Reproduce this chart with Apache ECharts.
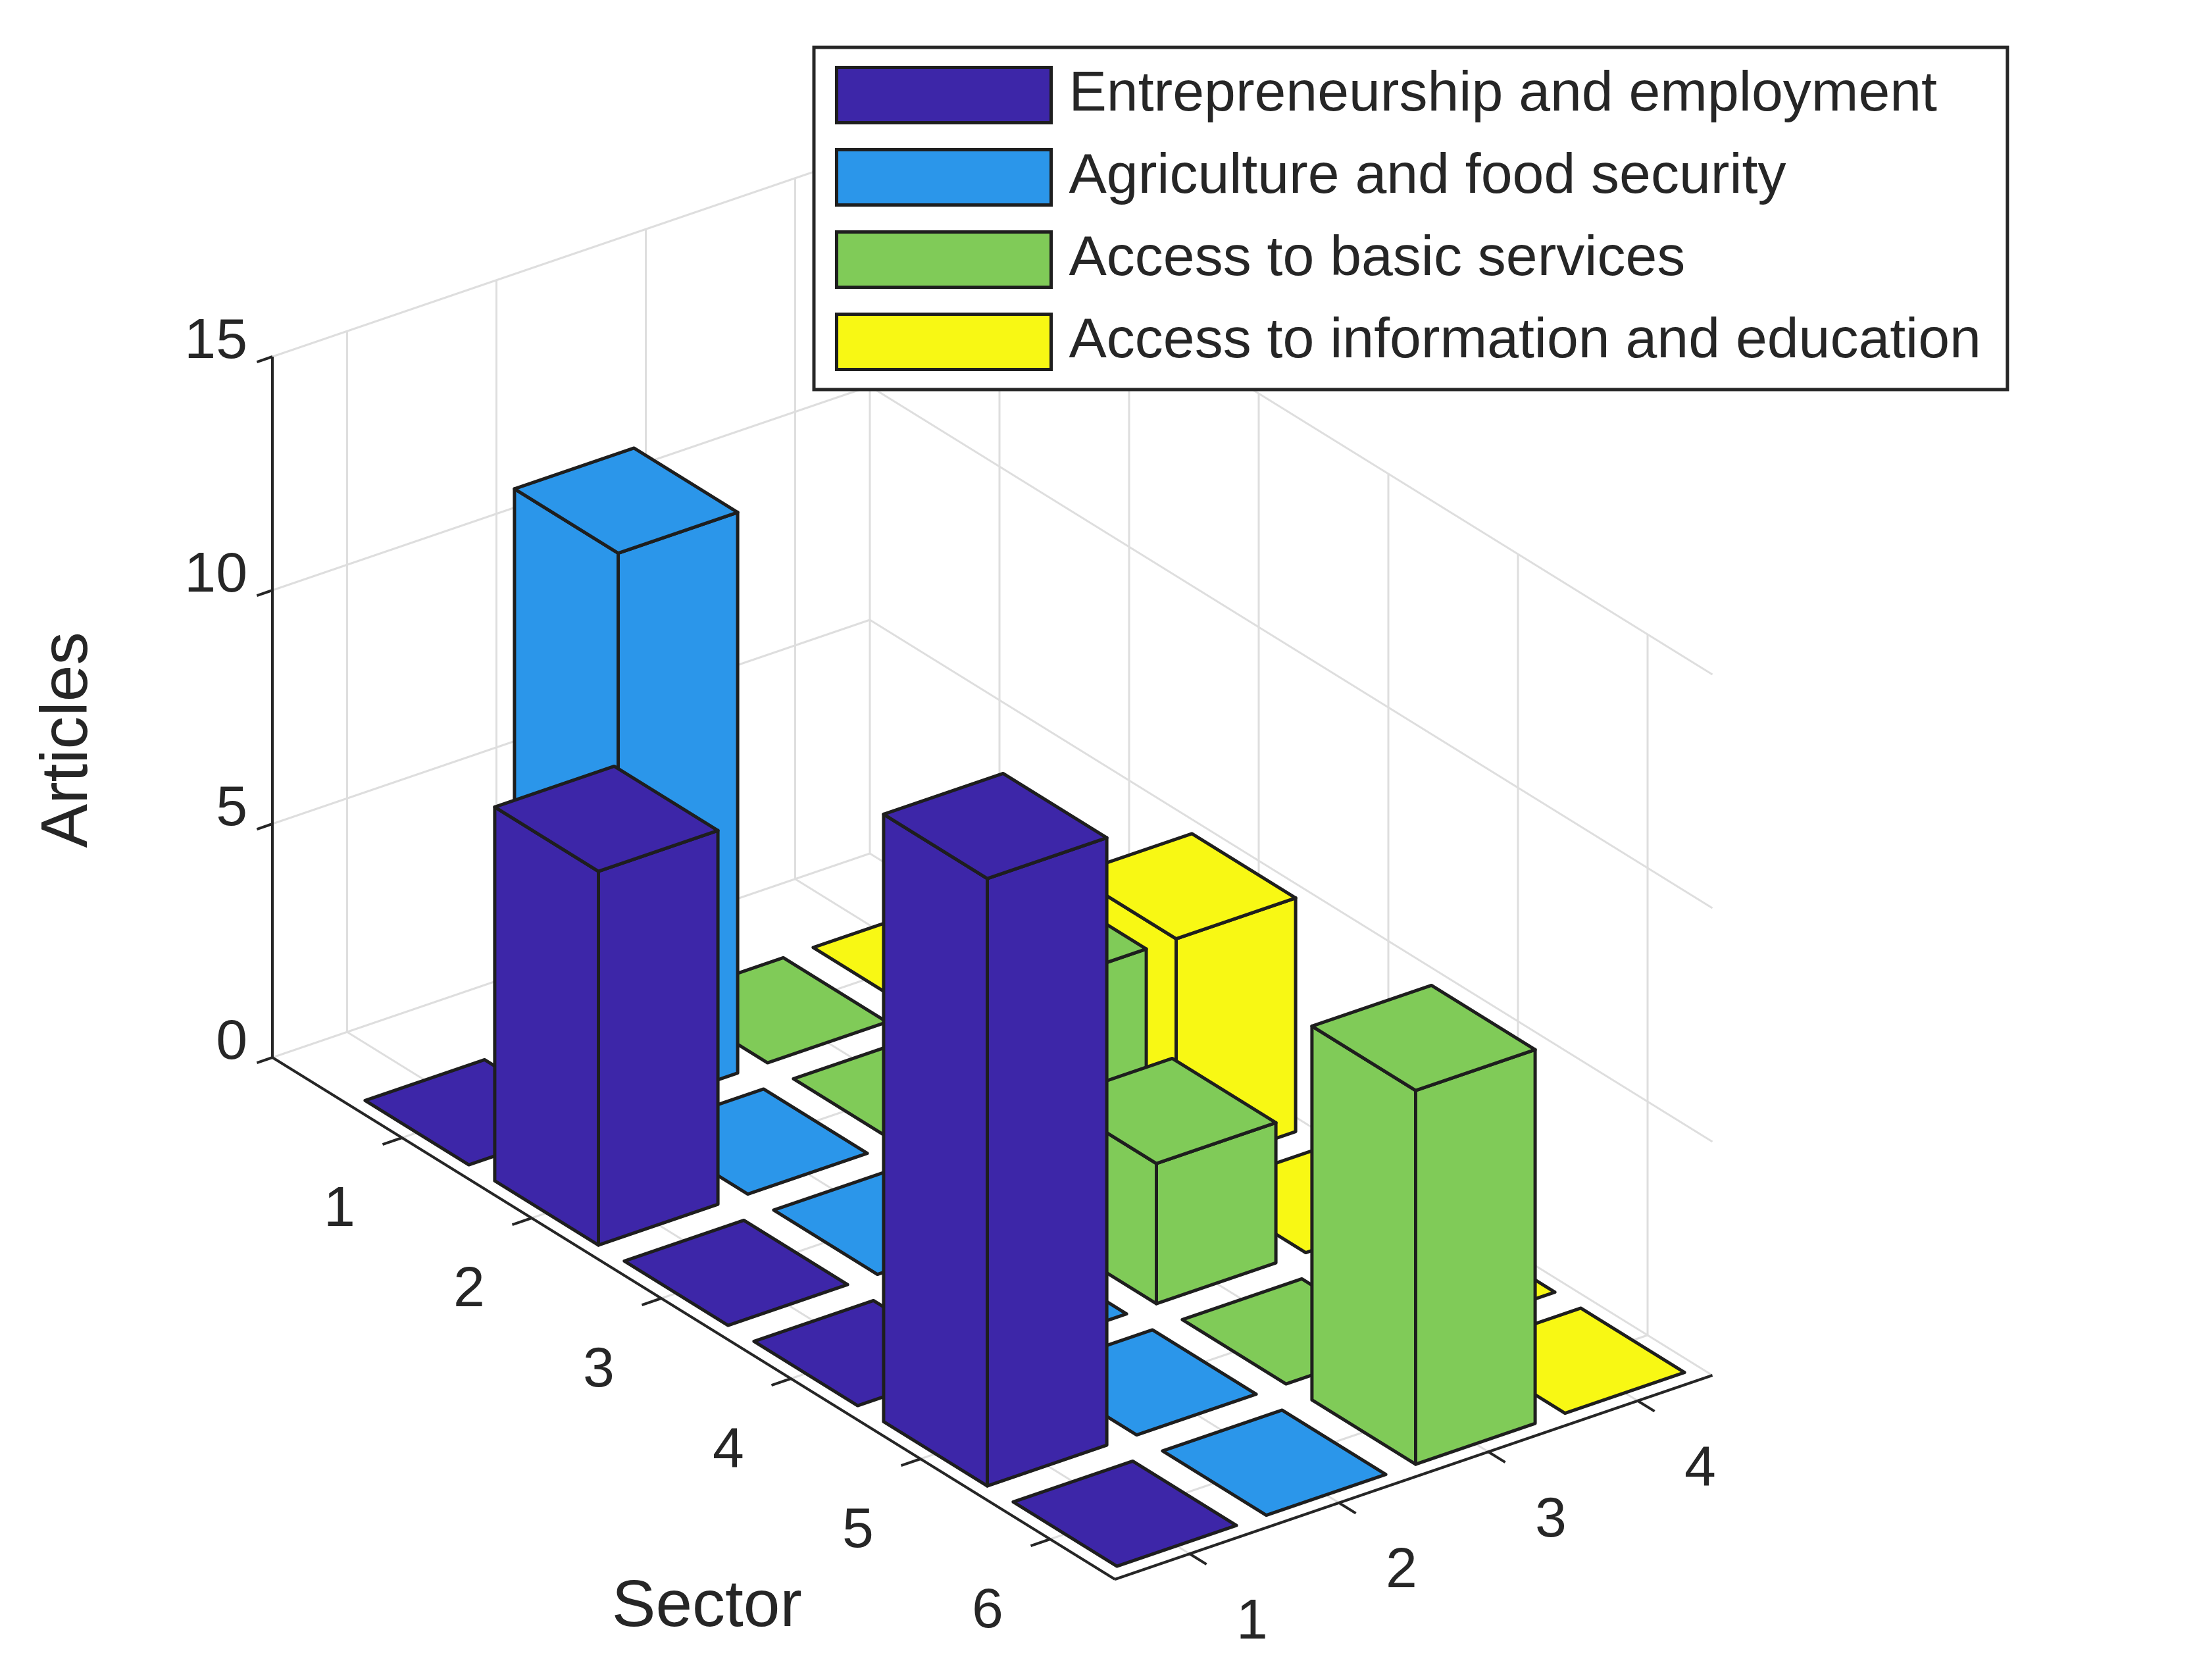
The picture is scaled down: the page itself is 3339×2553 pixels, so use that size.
<!DOCTYPE html>
<html><head><meta charset="utf-8">
<script src="https://cdn.jsdelivr.net/npm/echarts@6/dist/echarts.min.js"></script>
<style>html,body{margin:0;padding:0;background:#fff}#c{width:3339px;height:2553px}</style>
</head><body><div id="c"></div>
<script>
// ---- data ----
const sectors = [1, 2, 3, 4, 5, 6];
const columnTicks = [1, 2, 3, 4];
const zTicks = [0, 5, 10, 15];
const seriesNames = ['Entrepreneurship and employment', 'Agriculture and food security', 'Access to basic services', 'Access to information and education'];
const entrepreneurship = [0, 8, 0, 0, 13, 0];
const agriculture = [12, 0, 0, 0, 0, 0];
const basicServices = [0, 0, 5, 3, 0, 8];
const information = [0, 0, 5, 0, 0, 0];
const seriesValues = [entrepreneurship, agriculture, basicServices, information];
const colors = ['#3D26A8', '#2B96EA', '#80CB58', '#F8F814'];

// ---- projection (orthographic view like MATLAB bar3) ----
const O = [414, 1607], ER = [197, 122], EC = [227, -77.5], EZ = 71;
const R_MIN = 0, R_MAX = 6.5, C_MIN = 0.5, C_MAX = 4.5, Z_MAX = 15;
function P(r, c, z) {
  return [O[0] + r * ER[0] + (c - 0.5) * EC[0], O[1] + r * ER[1] + (c - 0.5) * EC[1] - z * EZ];
}
const chart = echarts.init(document.getElementById('c'));
const FONT = 'Liberation Sans, Arial, sans-serif';
const TXT = '#262626';

function barSeries(k) {
  return {
    type: 'custom', name: seriesNames[k], z: 2,
    itemStyle: { color: colors[k], borderColor: '#1e1e1e', borderWidth: 4 },
    data: seriesValues[k].map((v, i) => [sectors[i], k + 1, v]),
    renderItem: function (params, api) {
      const r = api.value(0), c = api.value(1), h = api.value(2);
      const w = 0.4, r0 = r - w, r1 = r + w, c0 = c - w, c1 = c + w;
      const q = pts => pts.map(p => api.coord(P(p[0], p[1], p[2])));
      const st = { fill: colors[k], stroke: '#1e1e1e', lineWidth: 5, lineJoin: 'round' };
      const z2 = Math.round((r - 0.936 * c + 10) * 100);
      const faces = [];
      if (h > 0) {
        faces.push({ type: 'polygon', shape: { points: q([[r0, c0, 0], [r1, c0, 0], [r1, c0, h], [r0, c0, h]]) }, style: st, z2: z2 });
        faces.push({ type: 'polygon', shape: { points: q([[r1, c0, 0], [r1, c1, 0], [r1, c1, h], [r1, c0, h]]) }, style: st, z2: z2 + 1 });
      }
      faces.push({ type: 'polygon', shape: { points: q([[r0, c0, h], [r1, c0, h], [r1, c1, h], [r0, c1, h]]) }, style: st, z2: z2 + 2 });
      return { type: 'group', children: faces };
    }
  };
}

function line(api, a, b, color, width) {
  const p1 = api.coord(a), p2 = api.coord(b);
  return { type: 'line', shape: { x1: p1[0], y1: p1[1], x2: p2[0], y2: p2[1] }, style: { stroke: color, lineWidth: width } };
}

const gridSeries = {
  type: 'custom', z: 1, silent: true, data: [0],
  renderItem: function (params, api) {
    const g = '#dedede', w = 3, ch = [];
    zTicks.forEach(z => {
      ch.push(line(api, P(R_MIN, C_MIN, z), P(R_MIN, C_MAX, z), g, w));
      ch.push(line(api, P(R_MIN, C_MAX, z), P(R_MAX, C_MAX, z), g, w));
    });
    columnTicks.forEach(c => {
      ch.push(line(api, P(R_MIN, c, 0), P(R_MIN, c, Z_MAX), g, w));
      ch.push(line(api, P(R_MIN, c, 0), P(R_MAX, c, 0), g, w));
    });
    sectors.forEach(r => {
      ch.push(line(api, P(r, C_MAX, 0), P(r, C_MAX, Z_MAX), g, w));
      ch.push(line(api, P(r, C_MIN, 0), P(r, C_MAX, 0), g, w));
    });
    ch.push(line(api, P(R_MIN, C_MAX, 0), P(R_MIN, C_MAX, Z_MAX), g, w));
    return { type: 'group', children: ch };
  }
};

const axisSeries = {
  type: 'custom', z: 3, silent: true, data: [0],
  renderItem: function (params, api) {
    const a = TXT, w = 4, ch = [];
    const tc = [-0.13 * EC[0], -0.13 * EC[1]], tr = [0.13 * ER[0], 0.13 * ER[1]];
    ch.push(line(api, P(R_MIN, C_MIN, 0), P(R_MIN, C_MIN, Z_MAX), a, w));
    ch.push(line(api, P(R_MIN, C_MIN, 0), P(R_MAX, C_MIN, 0), a, w));
    ch.push(line(api, P(R_MAX, C_MIN, 0), P(R_MAX, C_MAX, 0), a, w));
    zTicks.forEach(z => {
      const p = P(R_MIN, C_MIN, z);
      ch.push(line(api, p, [p[0] + tc[0] * 0.8, p[1] + tc[1] * 0.8], a, w));
      const t = api.coord([p[0] - 38, p[1] - 22]);
      ch.push({ type: 'text', x: t[0], y: t[1], style: { text: String(z), fill: TXT, font: '86px ' + FONT, align: 'right', verticalAlign: 'middle' } });
    });
    sectors.forEach(r => {
      const p = P(r, C_MIN, 0);
      ch.push(line(api, p, [p[0] + tc[0], p[1] + tc[1]], a, w));
      const t = api.coord([p[0] - 95, p[1] + 110]);
      ch.push({ type: 'text', x: t[0], y: t[1], style: { text: String(r), fill: TXT, font: '86px ' + FONT, align: 'center', verticalAlign: 'middle' } });
    });
    columnTicks.forEach(c => {
      const p = P(R_MAX, c, 0);
      ch.push(line(api, p, [p[0] + tr[0], p[1] + tr[1]], a, w));
      const t = api.coord([p[0] + 95, p[1] + 105]);
      ch.push({ type: 'text', x: t[0], y: t[1], style: { text: String(c), fill: TXT, font: '86px ' + FONT, align: 'center', verticalAlign: 'middle' } });
    });
    const s = P(3.25, C_MIN, 0);
    const st = api.coord([s[0] + 20, s[1] + 440]);
    ch.push({ type: 'text', x: st[0], y: st[1], style: { text: 'Sector', fill: TXT, font: '100px ' + FONT, align: 'center', verticalAlign: 'middle' } });
    const az = P(R_MIN, C_MIN, 7.5);
    const at = api.coord([az[0] - 310, az[1] + 50]);
    ch.push({ type: 'text', x: at[0], y: at[1], rotation: Math.PI / 2, style: { text: 'Articles', fill: TXT, font: '100px ' + FONT, align: 'center', verticalAlign: 'middle' } });
    return { type: 'group', children: ch };
  }
};

chart.setOption({
  animation: false,
  backgroundColor: '#fff',
  grid: { left: 0, right: 0, top: 0, bottom: 0 },
  xAxis: { type: 'value', min: 0, max: 3339, show: false },
  yAxis: { type: 'value', min: 0, max: 2553, inverse: true, show: false },
  legend: {
    orient: 'vertical', left: 1237, top: 72,
    data: seriesNames,
    icon: 'rect', itemWidth: 326, itemHeight: 84, itemGap: 36,
    padding: [28, 40, 28, 32],
    borderColor: '#262626', borderWidth: 5, backgroundColor: '#fff',
    selectedMode: false,
    itemStyle: { borderColor: '#1e1e1e', borderWidth: 5 },
    textStyle: { fontSize: 86, fontFamily: FONT, color: TXT, padding: [0, 0, 0, 22] }
  },
  series: [gridSeries, barSeries(0), barSeries(1), barSeries(2), barSeries(3), axisSeries]
});
</script></body></html>
